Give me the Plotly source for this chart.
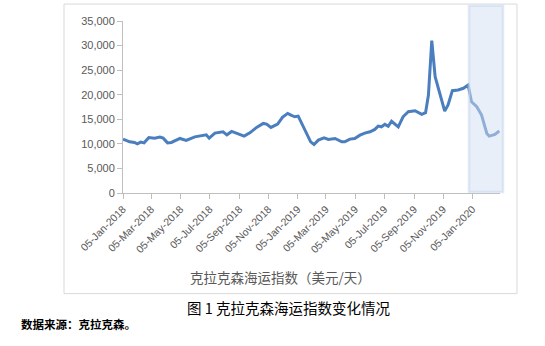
import plotly.graph_objects as go

dates = [
    "2018-01-05", "2018-01-19", "2018-01-29", "2018-02-04", "2018-02-11", "2018-02-18",
    "2018-02-28", "2018-03-12", "2018-03-23", "2018-03-30", "2018-04-08", "2018-04-16",
    "2018-05-04", "2018-05-17", "2018-06-04", "2018-06-18", "2018-06-28", "2018-07-04",
    "2018-07-16", "2018-08-02", "2018-08-10", "2018-08-20", "2018-09-02", "2018-09-15",
    "2018-09-27", "2018-10-11", "2018-10-25", "2018-11-01", "2018-11-10", "2018-11-24",
    "2018-12-04", "2018-12-15", "2018-12-23", "2018-12-30", "2019-01-06", "2019-01-13",
    "2019-01-23", "2019-02-01", "2019-02-08", "2019-02-17", "2019-03-01", "2019-03-10",
    "2019-03-24", "2019-04-07", "2019-04-13", "2019-04-24", "2019-05-04", "2019-05-15",
    "2019-05-25", "2019-06-05", "2019-06-15", "2019-06-22", "2019-06-29", "2019-07-06",
    "2019-07-13", "2019-07-20", "2019-08-03", "2019-08-13", "2019-08-24", "2019-09-07",
    "2019-09-21", "2019-09-29", "2019-10-05", "2019-10-12", "2019-10-19", "2019-10-29",
    "2019-11-08", "2019-11-15", "2019-11-24", "2019-12-06", "2019-12-17", "2019-12-27",
    "2020-01-03", "2020-01-14", "2020-01-24", "2020-02-04", "2020-02-09", "2020-02-21",
    "2020-03-01",
]
values = [
    10960, 10410, 10290, 10000, 10350, 10200,
    11300, 11160, 11370, 11160, 10200, 10290,
    11100, 10700, 11430, 11710, 11840, 11160,
    12180, 12450, 11840, 12530, 12120, 11570,
    12250, 13350, 14160, 14020, 13350, 14020,
    15390, 16200, 15800, 15510, 15650, 14160,
    12120, 10410, 9880, 10760, 11230, 10900,
    11100, 10410, 10410, 10960, 11100, 11780,
    12180, 12450, 12940, 13610, 13470, 13960,
    13570, 14600, 13470, 15510, 16530, 16740,
    16000, 16330, 19940, 31020, 23680, 19940,
    16680, 17900, 20820, 20960, 21310, 21980,
    18570, 17550, 15860, 12120, 11570, 11920,
    12660,
]

tick_dates = ["2018-01-05", "2018-03-05", "2018-05-05", "2018-07-05", "2018-09-05",
              "2018-11-05", "2019-01-05", "2019-03-05", "2019-05-05", "2019-07-05",
              "2019-09-05", "2019-11-05", "2020-01-05"]
tick_labels = ["05-Jan-2018", "05-Mar-2018", "05-May-2018", "05-Jul-2018", "05-Sep-2018",
               "05-Nov-2018", "05-Jan-2019", "05-Mar-2019", "05-May-2019", "05-Jul-2019",
               "05-Sep-2019", "05-Nov-2019", "05-Jan-2020"]
y_ticks = [0, 5000, 10000, 15000, 20000, 25000, 30000, 35000]

axis_title = "克拉克森海运指数（美元/天）"
caption = "图 1 克拉克森海运指数变化情况"
source = "数据来源：克拉克森。"

fig = go.Figure()
fig.add_trace(go.Scatter(x=dates, y=values, mode="lines",
                         line=dict(color="#4a7ebf", width=3), showlegend=False,
                         hoverinfo="skip"))

# plot area: x 123..500 px, y 21.2..192.7 px
L, R, T, B = 123, 500, 21.2, 192.7
W, H = R - L, B - T

def px(x):
    return (x - L) / W

def py(y):
    return (B - y) / H

fig.update_layout(
    width=545, height=346,
    margin=dict(l=L, r=545 - R, t=T, b=346 - B),
    paper_bgcolor="white", plot_bgcolor="white",
    xaxis=dict(type="date", range=["2018-01-05", "2020-03-02 12:00"],
               tickvals=tick_dates, ticktext=tick_labels, tickangle=-45,
               showgrid=False, zeroline=False, showline=True, linecolor="#bfbfbf",
               linewidth=1, ticks="outside", ticklen=5, tickcolor="#bfbfbf",
               tickfont=dict(family="Liberation Sans, Arial, sans-serif", size=10.5, color="#595959")),
    yaxis=dict(range=[0, 35000], tickvals=y_ticks,
               ticktext=[f"{v:,}" for v in y_ticks],
               showgrid=False, zeroline=False, showline=True, linecolor="#bfbfbf",
               linewidth=1, ticks="outside", ticklen=5, tickcolor="#bfbfbf",
               tickfont=dict(family="Liberation Sans, Arial, sans-serif", size=11, color="#595959")),
    shapes=[
        dict(type="rect", xref="paper", yref="paper",
             x0=px(64), x1=px(517), y0=py(293), y1=py(4.3),
             line=dict(color="#d9d9d9", width=1), fillcolor="rgba(0,0,0,0)", layer="below"),
        dict(type="rect", xref="paper", yref="paper",
             x0=px(469), x1=px(503), y0=py(191.7), y1=py(6),
             line=dict(color="rgba(200,215,238,0.55)", width=2.5),
             fillcolor="rgba(211,223,241,0.5)", layer="above"),
    ],
    annotations=[
        dict(text=axis_title, xref="paper", yref="paper", x=px(280), y=py(276),
             showarrow=False, xanchor="center", yanchor="middle",
             font=dict(family="Noto Sans CJK SC", size=13.5, color="#595959")),
        dict(text=caption, xref="paper", yref="paper", x=px(288.5), y=py(307),
             showarrow=False, xanchor="center", yanchor="middle",
             font=dict(family="Noto Sans CJK SC", size=14.5, color="#000000")),
        dict(text="<b>" + source + "</b>", xref="paper", yref="paper", x=px(19), y=py(323),
             showarrow=False, xanchor="left", yanchor="middle",
             font=dict(family="Noto Sans CJK SC", size=11.5, color="#000000")),
    ],
)

fig.write_html("out.html")
